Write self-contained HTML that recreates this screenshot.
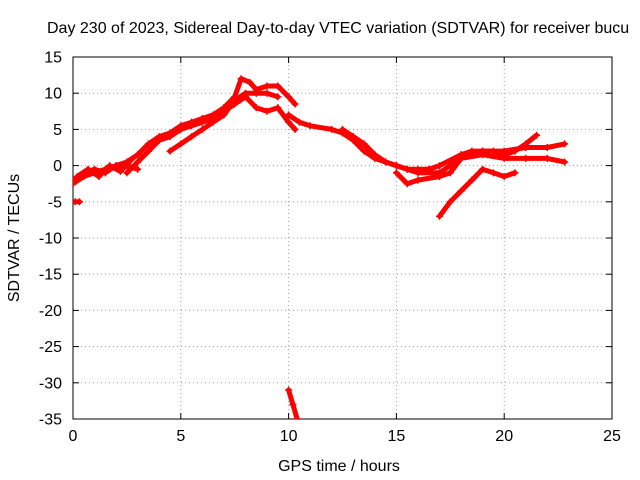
<!DOCTYPE html>
<html><head><meta charset="utf-8"><style>
body{margin:0;background:#fff;}
svg{display:block;font-family:"Liberation Sans",sans-serif;}
</style></head><body>
<svg id="chart" width="640" height="480" viewBox="0 0 640 480">
<rect width="640" height="480" fill="#fff"/>
<text x="47" y="33" font-size="16">Day 230 of 2023, Sidereal Day-to-day VTEC variation (SDTVAR) for receiver bucu</text>
<g id="grid"></g>
<g id="axes"></g>
<g id="marks"></g>
<text x="339" y="471" font-size="16" text-anchor="middle">GPS time / hours</text>
<text transform="translate(19,238) rotate(-90)" font-size="16" text-anchor="middle">SDTVAR / TECUs</text>
</svg>
<script>
const xTicks=[0,5,10,15,20,25];
const yTicks=[15,10,5,0,-5,-10,-15,-20,-25,-30,-35];
const trackA=[[0,-2.5],[0.5,-1.5],[1,-1],[1.5,-0.5],[2,0],[2.5,0.5],[3,1.5],[3.5,3],[4,4],[4.5,4.5],[5,5.5],[5.5,6],[6,6.5],[6.5,7],[7,8],[7.5,9.5],[7.8,12],[8.2,11.5],[8.5,10.5],[9,11],[9.5,11],[10,9.5],[10.3,8.5]];
const trackB=[[2.5,-1],[3,0.5],[3.5,2],[4,3.5],[4.5,4],[5,5],[5.5,5.5],[6,6],[6.5,6.5],[7,7.5],[7.5,8.5],[8,9.5],[8.5,8],[9,7.5],[9.5,8],[10,6],[10.3,5]];
const trackC=[[4.5,2],[5,3],[5.5,4],[6,5],[6.5,6],[7,7],[7.5,9],[8,10],[8.5,10],[9,10],[9.5,9.5]];
const trackD=[[10,7],[10.5,6],[11,5.5],[12,5],[12.5,4.5],[13,3.5],[13.5,2],[14,1],[14.5,0.5],[15,0],[15.5,-0.5],[16,-1],[17,-1],[17.5,0],[18,1.5],[18.5,2],[19,2],[19.5,2],[20,1.5],[20.5,2],[21,3],[21.5,4.2]];
const trackE=[[12.5,5],[13,4],[13.5,3],[14,1.5],[14.5,0.5],[15,0],[15.5,-0.5],[16,-0.5],[16.5,-0.5],[17,0],[18,1.5],[19,2],[20,2],[21,2.5],[22,2.5],[22.8,3]];
const trackF=[[15,-1],[15.5,-2.5],[16,-2],[17,-1.5],[17.5,-1],[18,1],[19,1.5],[20,1],[21,1],[22,1],[22.8,0.5]];
const trackG=[[17,-7],[17.5,-5],[18,-3.5],[18.5,-2],[19,-0.5],[19.5,-1],[20,-1.5],[20.5,-1]];
const trackH=[[0.1,-5],[0.3,-5]];
const trackI=[[10,-31],[10.2,-33],[10.4,-35]];
const trackJ=[[0,-2],[0.5,-1],[1,-0.5],[1.5,-1],[2,0],[2.5,0],[3,-0.5]];
const trackK=[[0.2,-1.5],[0.7,-0.5],[1.2,-1.5],[1.7,0],[2.2,-0.8],[2.7,0.8]];
const tracks=[trackA,trackB,trackC,trackD,trackE,trackF,trackG,trackH,trackI,trackJ,trackK];

const L=73,R=612,T=57,B=419;
const xs=v=>L+(v-0)/(25-0)*(R-L);
const ys=v=>B-(v+35)/(50)*(B-T);
const NS="http://www.w3.org/2000/svg";
function mk(tag,attrs,parent){const e=document.createElementNS(NS,tag);for(const k in attrs)e.setAttribute(k,attrs[k]);parent.appendChild(e);return e;}
const grid=document.getElementById('grid'),axes=document.getElementById('axes'),marks=document.getElementById('marks');
xTicks.forEach(t=>{
  const x=xs(t);
  if(t>0&&t<25){const g=mk('line',{x1:x,x2:x,y1:T,y2:B,stroke:'#a0a0a0','stroke-dasharray':'1,3'},grid);
  
  }
  mk('line',{x1:x,x2:x,y1:B,y2:B-6,stroke:'#000'},axes);
  mk('line',{x1:x,x2:x,y1:T,y2:T+6,stroke:'#000'},axes);
  const lb=mk('text',{x:x,y:B+22,'font-size':16,'text-anchor':'middle'},axes);
  lb.textContent=t;
  
  
});
yTicks.forEach(t=>{
  const y=ys(t);
  if(t<15&&t>-35){const g=mk('line',{x1:L,x2:R,y1:y,y2:y,stroke:'#a0a0a0','stroke-dasharray':'1,3'},grid);
  
  }
  mk('line',{x1:L,x2:L+6,y1:y,y2:y,stroke:'#000'},axes);
  mk('line',{x1:R,x2:R-6,y1:y,y2:y,stroke:'#000'},axes);
  const lb=mk('text',{x:L-11,y:y+5.5,'font-size':16,'text-anchor':'end'},axes);
  lb.textContent=t;
  
  
});
const fr=mk('rect',{x:L,y:T,width:R-L,height:B-T,fill:'none',stroke:'#000'},axes);


const clip=mk('clipPath',{id:'pc'},marks);mk('rect',{x:L,y:T,width:R-L,height:B-T},clip);
tracks.forEach((tr,i)=>{
  const d=tr.map((p,j)=>(j?'L':'M')+xs(p[0]).toFixed(1)+','+ys(p[1]).toFixed(1)).join('');
  const pth=mk('path',{d:d,fill:'none',stroke:'#f00','stroke-width':5,'stroke-linejoin':'round','stroke-linecap':'round','clip-path':'url(#pc)'},marks);
  
  
  tr.forEach(p=>{
    const x=xs(p[0]),y=ys(p[1]);
    const c=mk('path',{d:`M${x-3.5},${y}H${x+3.5}M${x},${y-3.5}V${y+3.5}`,stroke:'#f00','stroke-width':1.5,'clip-path':'url(#pc)'},marks);
    
    
  });
});
</script>
</body></html>
